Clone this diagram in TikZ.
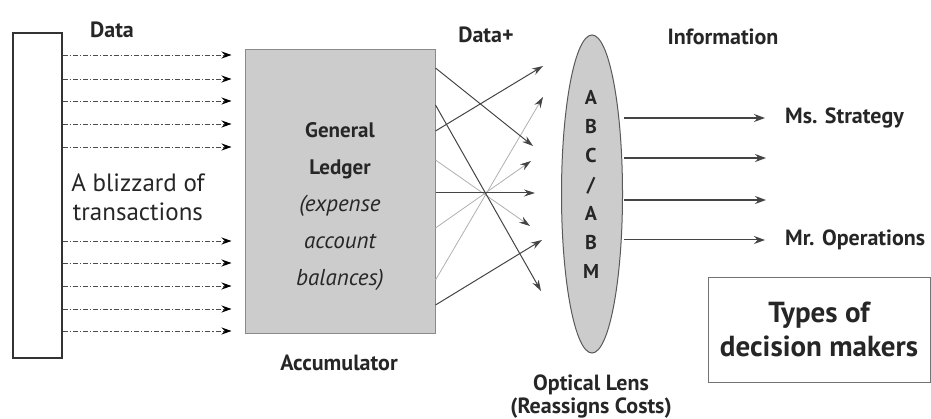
\documentclass[tikz,border=0pt]{standalone}
\usepackage{fontspec}
\setmainfont{PT Sans}
\usetikzlibrary{arrows.meta,shapes.geometric,calc}
\definecolor{boxgray}{HTML}{CCCCCC}
\definecolor{edgegray}{HTML}{8A8A8A}
\definecolor{darkline}{HTML}{444444}
\definecolor{lightline}{HTML}{B0B0B0}
\tikzset{
  lbl/.style={font=\bfseries\fontsize{22}{26}\selectfont, text=black!85, inner sep=0pt},
  datarrow/.style={draw=black!70, line width=0.9pt, dash pattern=on 5pt off 2pt on 1.2pt off 2pt,
    -{Stealth[length=10pt,width=7pt,color=black]}, shorten >=13pt},
  darkarrow/.style={draw=darkline, line width=1pt, -{Stealth[length=11pt,width=7pt]}},
  lightarrow/.style={draw=lightline, line width=0.8pt, -{Stealth[length=11pt,width=7pt,color=darkline]}},
  infoarrow/.style={draw=darkline, line width=1.3pt, -{Stealth[length=11pt,width=8pt]}},
}
\begin{document}
\begin{tikzpicture}[x=1pt,y=-1pt]
\useasboundingbox (0,0) rectangle (931,419);

% source of raw transactions
\node[draw=black!80, line width=1.3pt, minimum width=49pt, minimum height=325pt, inner sep=0pt]
  (src) at (37.5,195.5) {};

% the general ledger (accumulator)
\node[draw=edgegray, fill=boxgray, line width=1pt, minimum width=190pt, minimum height=284pt, inner sep=0pt]
  (ledger) at (340,192) {};
\node[align=center, inner sep=0pt, text=black!85, font=\bfseries\fontsize{21}{37}\selectfont] (gltext) at (340,207)
  {General\\ Ledger\\ {\mdseries\itshape\fontsize{23}{37}\selectfont (expense}\\
   {\mdseries\itshape\fontsize{23}{37}\selectfont account}\\
   {\mdseries\itshape\fontsize{23}{37}\selectfont balances)}};

% the optical lens
\node[ellipse, draw=black!65, fill=boxgray, line width=1pt, minimum width=61pt, minimum height=318pt, inner sep=0pt]
  (lens) at (592,194) {};
\node[align=center, inner sep=0pt, text=black!85, font=\bfseries\fontsize{20}{29}\selectfont] (abc) at (591,184.5)
  {A\\ B\\ C\\ /\\ A\\ B\\ M};

% labels
\node[lbl] (data) at (112,30) {Data};
\node[lbl] (dataplus) at (486,35) {Data+};
\node[lbl] (info) at (723,37) {Information};
\node[lbl, anchor=west] (ms) at (785,118) {Ms. Strategy};
\node[lbl, anchor=west] (mr) at (785,240) {Mr. Operations};
\node[lbl] (acc) at (339,363) {Accumulator};
\node[lbl] (optical) at (591,385) {Optical Lens};
\node[lbl] (reassign) at (591,408) {(Reassigns Costs)};
\node[align=center, inner sep=0pt, text=black!85, font=\fontsize{25}{29}\selectfont] (blizzard) at (138,197)
  {A blizzard of\\ transactions};

% decision makers box
\node[draw=black!55, line width=0.8pt, minimum width=222pt, minimum height=105pt, align=center,
  font=\bfseries\fontsize{29}{34}\selectfont, text=black!85] (types) at (819,329.5)
  {Types of\\ decision makers};

% data flowing into the ledger
\foreach \yy in {55,79,101,124,147,241,263,286,309,331}
  \draw[datarrow] (src.east |- 0,\yy) -- (ledger.west |- 0,\yy);

% arrow tips in front of the lens
\coordinate (t1) at (543,66);
\coordinate (t2) at (543,97);
\coordinate (t3) at (533,146);
\coordinate (t4) at (531,161);
\coordinate (t5) at (535,193);
\coordinate (t6) at (530,226);
\coordinate (t7) at (542,240);
\coordinate (t8) at (541,291);

% data reshuffled between ledger and lens
\draw[lightarrow] (ledger.east |- 0,280) -- (t2);
\draw[lightarrow] (ledger.east |- 0,228) -- (t4);
\draw[lightarrow] (ledger.east |- 0,160) -- (t6);
\draw[darkarrow] (ledger.east |- 0,68) -- (t3);
\draw[darkarrow] (ledger.east |- 0,105) -- (t8);
\draw[darkarrow] (ledger.east |- 0,131) -- (t1);
\draw[darkarrow] (ledger.east |- 0,193) -- (t5);
\draw[darkarrow] (ledger.east |- 0,305) -- (t7);

% information leaving the lens
\coordinate (i2) at (766,158);
\coordinate (i3) at (766,200);
\draw[infoarrow] (624,118) -- ([xshift=-20pt]ms.west);
\draw[infoarrow] (624,158) -- (i2);
\draw[infoarrow] (624,200) -- (i3);
\draw[infoarrow, line width=1pt] (624,240) -- ([xshift=-20pt]mr.west);
\end{tikzpicture}
\end{document}
